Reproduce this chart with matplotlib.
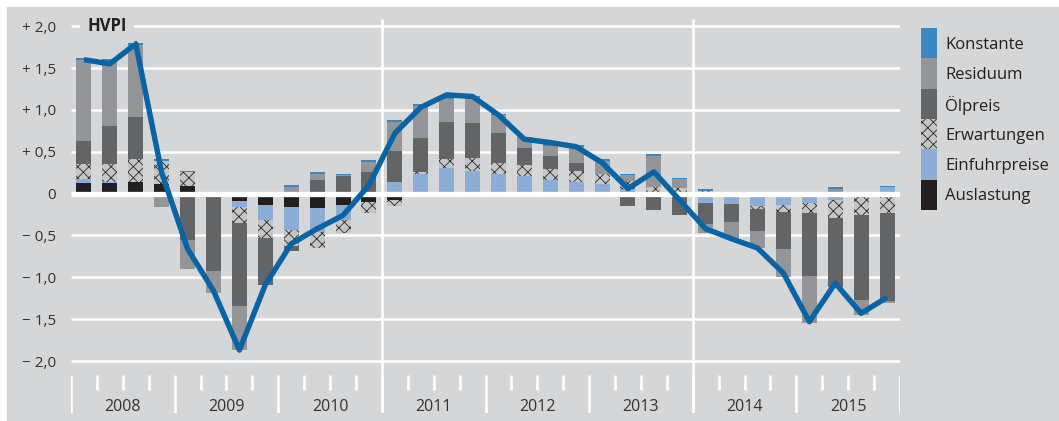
import matplotlib

matplotlib.use("Agg")
import matplotlib.pyplot as plt
import numpy as np
from matplotlib.patches import Rectangle

# Quartale 2008 Q1 .. 2015 Q4
years = ["2008", "2009", "2010", "2011", "2012", "2013", "2014", "2015"]

auslastung = [0.13, 0.13, 0.135, 0.12, 0.09, 0.0, -0.09, -0.135,
              -0.16, -0.175, -0.135, -0.095, -0.075, 0.0, 0.0, 0.0,
              0.0, 0.0, 0.0, 0.0, 0.0, 0.0, 0.0, 0.0,
              0.0, 0.0, 0.0, 0.0, 0.0, 0.0, 0.0, 0.0]
einfuhrpreise = [0.04, 0.01, 0.005, 0.0, 0.0, 0.0, -0.075, -0.18,
                 -0.27, -0.28, -0.18, 0.0, 0.14, 0.24, 0.30, 0.27,
                 0.24, 0.21, 0.16, 0.14, 0.11, 0.05, 0.0, 0.0,
                 -0.11, -0.125, -0.147, -0.14, -0.115, -0.075, 0.0, 0.076]
erwartungen = [0.18, 0.21, 0.27, 0.27, 0.165, 0.0, -0.19, -0.21,
               -0.20, -0.20, -0.16, -0.14, -0.07, 0.02, 0.11, 0.15,
               0.13, 0.13, 0.135, 0.13, 0.125, 0.10, 0.08, 0.065,
               0.03, 0.0, -0.04, -0.075, -0.12, -0.215, -0.25, -0.227]
oelpreis = [0.28, 0.46, 0.51, 0.0, -0.55, -0.92, -0.99, -0.57,
            -0.06, 0.16, 0.21, 0.255, 0.37, 0.40, 0.45, 0.42,
            0.355, 0.21, 0.16, 0.09, -0.02, -0.15, -0.20, -0.255,
            -0.255, -0.21, -0.26, -0.445, -0.75, -0.82, -1.02, -1.06]
residuum = [0.97, 0.78, 0.86, -0.165, -0.35, -0.27, -0.52, 0.0,
            0.08, 0.08, 0.01, 0.127, 0.35, 0.39, 0.27, 0.31,
            0.21, 0.11, 0.115, 0.195, 0.16, 0.07, 0.37, 0.105,
            -0.105, -0.20, -0.20, -0.34, -0.565, 0.05, -0.18, -0.02]
konstante = [0.02, 0.02, 0.02, 0.025, 0.02, 0.0, 0.0, 0.0,
             0.02, 0.02, 0.02, 0.025, 0.02, 0.02, 0.02, 0.02,
             0.02, 0.02, 0.02, 0.02, 0.02, 0.02, 0.02, 0.02,
             0.02, 0.02, 0.0, 0.0, 0.0, 0.025, 0.0, 0.02]
hvpi = [1.60, 1.55, 1.79, 0.25, -0.66, -1.16, -1.87, -1.09,
        -0.60, -0.42, -0.26, 0.10, 0.72, 1.03, 1.18, 1.16,
        0.94, 0.65, 0.61, 0.56, 0.37, 0.06, 0.26, -0.08,
        -0.42, -0.54, -0.65, -0.95, -1.53, -1.07, -1.43, -1.24]

ytick_vals = [2.0, 1.5, 1.0, 0.5, 0.0, -0.5, -1.0, -1.5, -2.0]
ytick_labels = ["+ 2,0", "+ 1,5", "+ 1,0", "+ 0,5", "0",
                "\u2212 0,5", "\u2212 1,0", "\u2212 1,5", "\u2212 2,0"]

BG = "#d5d6d8"
TXT = "#231f20"
plt.rcParams["font.family"] = ["Open Sans", "DejaVu Sans"]
plt.rcParams["hatch.linewidth"] = 0.6

W, H = 1059, 421
fig = plt.figure(figsize=(W / 100, H / 100), dpi=100, facecolor="white")
fig.patches.append(Rectangle((7 / W, 0), 1 - 7 / W, 1 - 7 / H,
                             transform=fig.transFigure, color=BG, zorder=-10))

ax = fig.add_axes([71 / W, 8 / H, 829 / W, 394 / H])
ax.set_facecolor("none")
for s in ax.spines.values():
    s.set_visible(False)
ax.set_xlim(0, 32)
ax.set_ylim(-2.621, 2.086)

n = len(hvpi)
x = np.arange(n) + 0.5

# Gitter
ax.hlines([v for v in ytick_vals if v != 0], 0, 32, color="white", lw=1.8, zorder=1)
ax.hlines(0, 0, 32, color="white", lw=3.8, zorder=3)
ax.vlines([12, 24], -2.621, 2.086, color="white", lw=1.9, zorder=1)

# Zeitachse: Quartals- und Jahresstriche
ax.vlines(np.arange(0, 33, 4), -2.167, -2.621, color="white", lw=1.9, zorder=1)
short = [q for q in range(1, 32) if q % 4]
ax.vlines(short, -2.167, -2.347, color="white", lw=1.9, zorder=1)
for i, yr in enumerate(years):
    ax.text(4 * i + 2, -2.55, yr, ha="center", va="center", fontsize=11.5, color="#333333")

# gestapelte Balken, positive und negative Beitraege getrennt
components = [
    ("Auslastung", auslastung, "#231f20", None),
    ("Einfuhrpreise", einfuhrpreise, "#8cadd6", None),
    ("Erwartungen", erwartungen, "#c4c5c7", "xxx"),
    ("\u00d6lpreis", oelpreis, "#636466", None),
    ("Residuum", residuum, "#949598", None),
    ("Konstante", konstante, "#3a87c1", None),
]
pos = np.zeros(n)
neg = np.zeros(n)
for name, vals, color, hatch in components:
    vals = np.asarray(vals)
    bottom = np.where(vals >= 0, pos, neg)
    ax.bar(x, vals, 0.58, bottom=bottom, color=color, hatch=hatch,
           edgecolor="#2a2a2a" if hatch else color, linewidth=0,
           label=name, zorder=2)
    pos += np.clip(vals, 0, None)
    neg += np.clip(vals, None, 0)

ax.plot(x, hvpi, color="#0a64a4", lw=3.9, solid_joinstyle="round",
        solid_capstyle="butt", zorder=4)

ax.text(0.62, 2.0, "HVPI", ha="left", va="center", fontsize=12, fontweight="bold",
        color=TXT, zorder=5,
        bbox=dict(boxstyle="square,pad=0.45", facecolor=BG, edgecolor="none"))

ax.set_xticks([])
ax.set_yticks(ytick_vals)
ax.set_yticklabels(ytick_labels, fontsize=11, color="#333333")
ax.tick_params(axis="y", length=0, pad=11)

# Legende: aneinanderstossende Farbfelder, oben Konstante
row = 30.33
for i, (name, _, color, hatch) in enumerate(components[::-1]):
    top = 28 + i * row
    fig.patches.append(Rectangle((921 / W, 1 - (top + row) / H), 16 / W, row / H,
                                 transform=fig.transFigure, facecolor=color,
                                 hatch=hatch, edgecolor="#2a2a2a" if hatch else color,
                                 linewidth=0))
    fig.text(945 / W, 1 - (top + row / 2 + 1.5) / H, name, ha="left", va="center",
             fontsize=12, color=TXT)

fig.savefig("out.png", dpi=100)
